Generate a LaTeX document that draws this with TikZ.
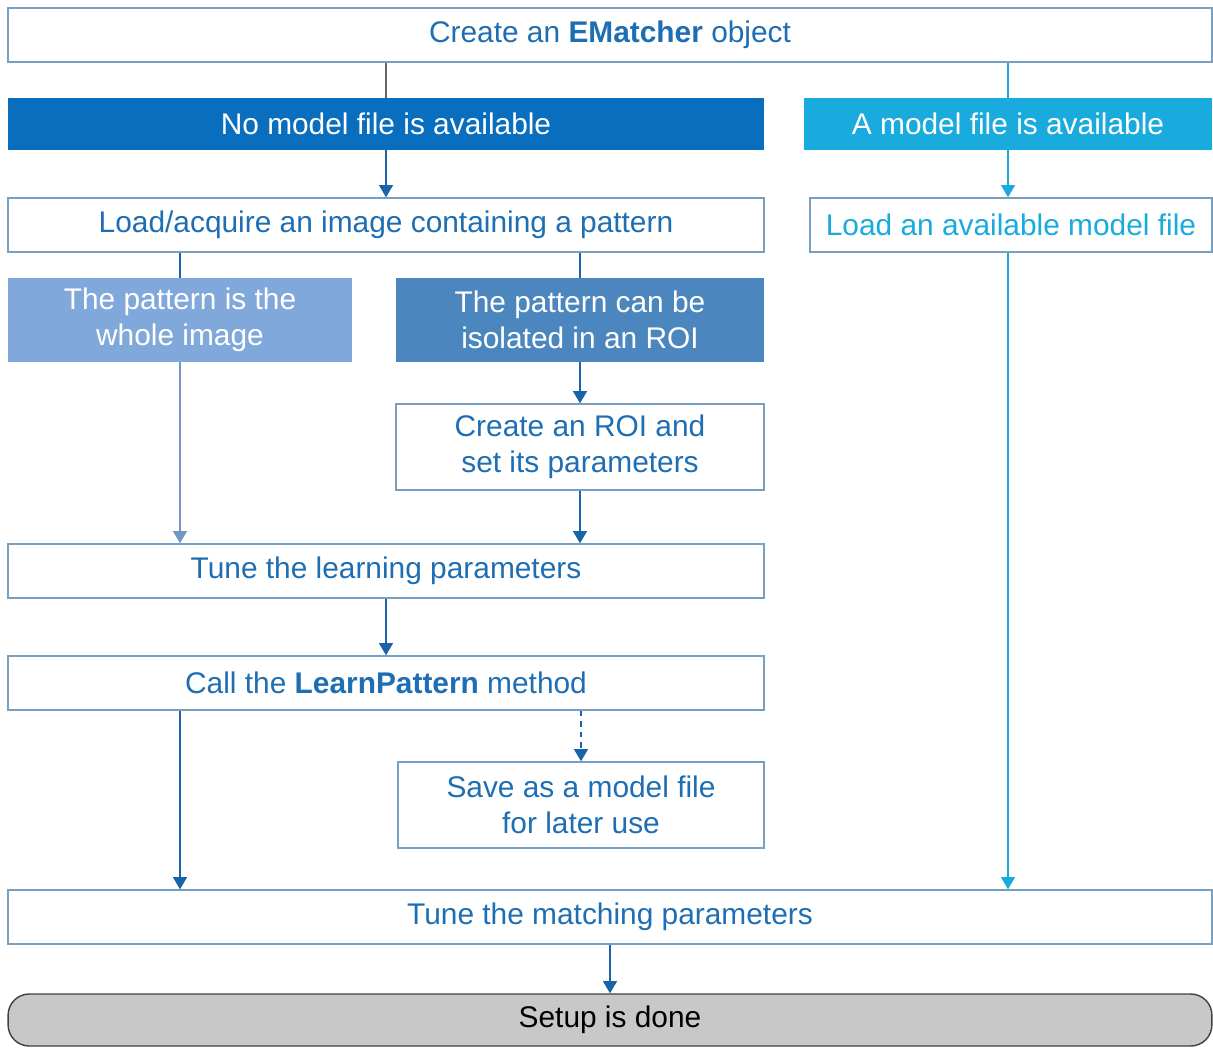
\documentclass[tikz,border=0pt]{standalone}
\usepackage{fontspec}
\setmainfont{Liberation Sans}
\usetikzlibrary{arrows.meta}
\definecolor{txtblue}{RGB}{30,110,180}
\definecolor{lineblue}{RGB}{120,158,192}
\definecolor{arrblue}{RGB}{25,100,168}
\definecolor{cyanish}{RGB}{25,170,222}
\definecolor{darkfill}{RGB}{10,110,190}
\definecolor{lightfill}{RGB}{128,168,218}
\definecolor{midfill}{RGB}{75,135,190}
\definecolor{greyfill}{RGB}{200,200,200}

\begin{document}
\begin{tikzpicture}[x=0.02cm,y=-0.02cm,
  every node/.style={font=\fontsize{17}{20.5}\selectfont, align=center, inner sep=0pt},
  plainbox/.style={draw=lineblue, fill=white, text=txtblue, line width=0.8pt},
  darkbox/.style={fill=darkfill, text=white},
  cyanbox/.style={fill=cyanish, text=white},
  lightbox/.style={fill=lightfill, text=white},
  midbox/.style={fill=midfill, text=white},
  conn/.style={draw=arrblue, line width=0.9pt},
  arr/.style={conn, -{Triangle[width=8pt,length=7pt]}}]
\useasboundingbox (0,0) rectangle (1213,1048);

\node[plainbox, minimum width=24.08cm, minimum height=1.08cm] (create) at (610,35) {Create an \textbf{EMatcher} object};
\node[darkbox, minimum width=15.12cm, minimum height=1.04cm] (nomodel) at (386,124) {No model file is available};
\node[cyanbox, minimum width=8.16cm, minimum height=1.04cm] (amodel) at (1008,124) {A model file is available};
\node[plainbox, minimum width=15.12cm, minimum height=1.08cm] (loadacq) at (386,225) {Load/acquire an image containing a pattern};
\node[plainbox, text=cyanish, minimum width=8.04cm, minimum height=1.08cm] (loadavail) at (1011,225) {Load an available model file};
\node[lightbox, minimum width=6.88cm, minimum height=1.68cm] (whole) at (180,320) {The pattern is the\\whole image};
\node[midbox, minimum width=7.36cm, minimum height=1.68cm] (isolated) at (580,320) {The pattern can be\\isolated in an ROI};
\node[plainbox, minimum width=7.36cm, minimum height=1.72cm] (roi) at (580,447) {Create an ROI and\\set its parameters};
\node[plainbox, minimum width=15.12cm, minimum height=1.08cm] (tunelearn) at (386,571) {Tune the learning parameters};
\node[plainbox, minimum width=15.12cm, minimum height=1.08cm] (learn) at (386,683) {Call the \textbf{LearnPattern} method};
\node[plainbox, minimum width=7.32cm, minimum height=1.72cm] (save) at (581,805) {Save as a model file\\for later use};
\node[plainbox, minimum width=24.08cm, minimum height=1.08cm] (tunematch) at (610,917) {Tune the matching parameters};
\node[draw=black!75, fill=greyfill, rounded corners=12pt, line width=0.8pt, text=black, minimum width=24.08cm, minimum height=1.04cm] (done) at (610,1020) {Setup is done};

% left branch
\draw[conn, draw=black!60] (create.south -| nomodel) -- (nomodel.north);
\draw[arr] (nomodel.south) -- (loadacq.north);
\draw[conn] (loadacq.south -| whole) -- (whole.north);
\draw[conn] (loadacq.south -| isolated) -- (isolated.north);
\draw[arr, draw=lightfill!90!black] (whole.south) -- (whole.south |- tunelearn.north);
\draw[arr] (isolated.south) -- (roi.north);
\draw[arr] (roi.south) -- (roi.south |- tunelearn.north);
\draw[arr] (tunelearn.south) -- (learn.north);
\draw[arr, dashed] (learn.south -| save) -- (save.north);
\draw[arr] (learn.south -| whole) -- (whole |- tunematch.north);

% right branch
\draw[conn, draw=cyanish] (create.south -| amodel) -- (amodel.north);
\draw[arr, draw=cyanish] (amodel.south) -- (amodel.south |- loadavail.north);
\draw[arr, draw=cyanish] (loadavail.south -| amodel) -- (amodel |- tunematch.north);

\draw[arr] (tunematch.south -| done) -- (done.north);
\end{tikzpicture}
\end{document}
